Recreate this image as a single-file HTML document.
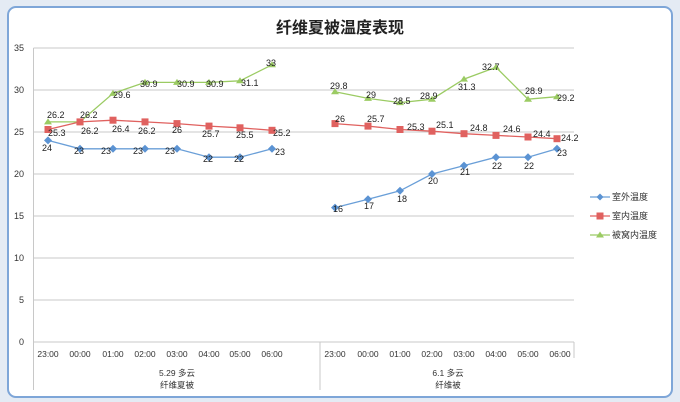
<!DOCTYPE html>
<html><head><meta charset="utf-8"><style>
html,body{margin:0;padding:0;width:680px;height:402px;overflow:hidden;background:#dfe7f1}
svg{display:block}
text{font-family:"Liberation Sans","Noto Sans CJK SC",sans-serif}
</style></head><body>
<svg width="680" height="402" viewBox="0 0 680 402">
<rect x="0" y="0" width="680" height="402" fill="#e4ebf4"/>
<rect x="8" y="7" width="664" height="390" rx="8" fill="#fff" stroke="#7ea6d8" stroke-width="2"/>
<text x="340" y="33" font-size="16" font-weight="bold" text-anchor="middle" fill="#222">纤维夏被温度表现</text>
<g stroke="#c8c8c8" stroke-width="1">
<line x1="33.5" y1="48" x2="574" y2="48"/><line x1="33.5" y1="90" x2="574" y2="90"/>
<line x1="33.5" y1="132" x2="574" y2="132"/><line x1="33.5" y1="174" x2="574" y2="174"/>
<line x1="33.5" y1="216" x2="574" y2="216"/><line x1="33.5" y1="258" x2="574" y2="258"/>
<line x1="33.5" y1="300" x2="574" y2="300"/><line x1="33.5" y1="342" x2="574" y2="342"/>
<line x1="33.5" y1="48" x2="33.5" y2="390"/><line x1="320" y1="342" x2="320" y2="390"/>
<line x1="574" y1="342" x2="574" y2="358"/>
</g>
<g font-size="9" fill="#333" text-anchor="end">
<text x="24" y="51">35</text><text x="24" y="93">30</text><text x="24" y="135">25</text><text x="24" y="177">20</text><text x="24" y="219">15</text><text x="24" y="261">10</text><text x="24" y="303">5</text><text x="24" y="345">0</text>
</g>
<g font-size="8.5" fill="#333" text-anchor="middle">
<text x="48" y="357">23:00</text><text x="80" y="357">00:00</text><text x="113" y="357">01:00</text><text x="145" y="357">02:00</text><text x="177" y="357">03:00</text><text x="209" y="357">04:00</text><text x="240" y="357">05:00</text><text x="272" y="357">06:00</text>
<text x="335" y="357">23:00</text><text x="368" y="357">00:00</text><text x="400" y="357">01:00</text><text x="432" y="357">02:00</text><text x="464" y="357">03:00</text><text x="496" y="357">04:00</text><text x="528" y="357">05:00</text><text x="560" y="357">06:00</text>
<text x="177" y="376">5.29 多云</text><text x="177" y="388">纤维夏被</text>
<text x="448" y="376">6.1 多云</text><text x="448" y="388">纤维被</text>
</g>
<!-- green -->
<polyline fill="none" stroke="#9bcb63" stroke-width="1.3" points="48,121.9 80,121.9 113,93.4 145,82.4 177,82.4 209,82.4 240,80.8 272,64.8"/>
<polyline fill="none" stroke="#9bcb63" stroke-width="1.3" points="335,91.7 368,98.4 400,102.6 432,99.2 464,79.1 496,67.3 528,99.2 557,96.7"/>
<g fill="#9bcb63">
<path d="M48,118.4l4,6h-8z"/><path d="M80,118.4l4,6h-8z"/><path d="M113,89.9l4,6h-8z"/><path d="M145,78.9l4,6h-8z"/><path d="M177,78.9l4,6h-8z"/><path d="M209,78.9l4,6h-8z"/><path d="M240,77.3l4,6h-8z"/><path d="M272,61.3l4,6h-8z"/>
<path d="M335,88.2l4,6h-8z"/><path d="M368,94.9l4,6h-8z"/><path d="M400,99.1l4,6h-8z"/><path d="M432,95.7l4,6h-8z"/><path d="M464,75.6l4,6h-8z"/><path d="M496,63.8l4,6h-8z"/><path d="M528,95.7l4,6h-8z"/><path d="M557,93.2l4,6h-8z"/>
</g>
<!-- red -->
<polyline fill="none" stroke="#e0615f" stroke-width="1.3" points="48,129.5 80,121.9 113,120.2 145,121.9 177,123.6 209,126.1 240,127.8 272,130.3"/>
<polyline fill="none" stroke="#e0615f" stroke-width="1.3" points="335,123.6 368,126.1 400,129.5 432,131.2 464,133.7 496,135.4 528,137 557,138.7"/>
<g fill="#e0615f">
<rect x="44.5" y="126" width="7" height="7"/><rect x="76.5" y="118.4" width="7" height="7"/><rect x="109.5" y="116.7" width="7" height="7"/><rect x="141.5" y="118.4" width="7" height="7"/><rect x="173.5" y="120.1" width="7" height="7"/><rect x="205.5" y="122.6" width="7" height="7"/><rect x="236.5" y="124.3" width="7" height="7"/><rect x="268.5" y="126.8" width="7" height="7"/>
<rect x="331.5" y="120.1" width="7" height="7"/><rect x="364.5" y="122.6" width="7" height="7"/><rect x="396.5" y="126" width="7" height="7"/><rect x="428.5" y="127.7" width="7" height="7"/><rect x="460.5" y="130.2" width="7" height="7"/><rect x="492.5" y="131.9" width="7" height="7"/><rect x="524.5" y="133.5" width="7" height="7"/><rect x="553.5" y="135.2" width="7" height="7"/>
</g>
<!-- blue -->
<polyline fill="none" stroke="#6a9fd8" stroke-width="1.3" points="48,140.4 80,148.8 113,148.8 145,148.8 177,148.8 209,157.2 240,157.2 272,148.8"/>
<polyline fill="none" stroke="#6a9fd8" stroke-width="1.3" points="335,207.6 368,199.2 400,190.8 432,174 464,165.6 496,157.2 528,157.2 557,148.8"/>
<g fill="#5b93d3">
<path d="M48,136.4l4,4l-4,4l-4,-4z"/><path d="M80,144.8l4,4l-4,4l-4,-4z"/><path d="M113,144.8l4,4l-4,4l-4,-4z"/><path d="M145,144.8l4,4l-4,4l-4,-4z"/><path d="M177,144.8l4,4l-4,4l-4,-4z"/><path d="M209,153.2l4,4l-4,4l-4,-4z"/><path d="M240,153.2l4,4l-4,4l-4,-4z"/><path d="M272,144.8l4,4l-4,4l-4,-4z"/>
<path d="M335,203.6l4,4l-4,4l-4,-4z"/><path d="M368,195.2l4,4l-4,4l-4,-4z"/><path d="M400,186.8l4,4l-4,4l-4,-4z"/><path d="M432,170l4,4l-4,4l-4,-4z"/><path d="M464,161.6l4,4l-4,4l-4,-4z"/><path d="M496,153.2l4,4l-4,4l-4,-4z"/><path d="M528,153.2l4,4l-4,4l-4,-4z"/><path d="M557,144.8l4,4l-4,4l-4,-4z"/>
</g>
<!-- labels -->
<g font-size="9" fill="#222">
<text x="47" y="118">26.2</text><text x="80" y="118">26.2</text><text x="113" y="98">29.6</text><text x="140" y="87">30.9</text><text x="177" y="87">30.9</text><text x="206" y="87">30.9</text><text x="241" y="86">31.1</text><text x="266" y="66">33</text>
<text x="48" y="136">25.3</text><text x="81" y="134">26.2</text><text x="112" y="132">26.4</text><text x="138" y="134">26.2</text><text x="172" y="133">26</text><text x="202" y="137">25.7</text><text x="236" y="138">25.5</text><text x="273" y="136">25.2</text>
<text x="42" y="151">24</text><text x="74" y="154">23</text><text x="101" y="154">23</text><text x="133" y="154">23</text><text x="165" y="154">23</text><text x="203" y="162">22</text><text x="234" y="162">22</text><text x="275" y="155">23</text>
<text x="330" y="89">29.8</text><text x="366" y="98">29</text><text x="393" y="104">28.5</text><text x="420" y="99">28.9</text><text x="458" y="90">31.3</text><text x="482" y="70">32.7</text><text x="525" y="94">28.9</text><text x="557" y="101">29.2</text>
<text x="335" y="122">26</text><text x="367" y="122">25.7</text><text x="407" y="130">25.3</text><text x="436" y="128">25.1</text><text x="470" y="131">24.8</text><text x="503" y="132">24.6</text><text x="533" y="137">24.4</text><text x="561" y="141">24.2</text>
<text x="333" y="212">16</text><text x="364" y="209">17</text><text x="397" y="202">18</text><text x="428" y="184">20</text><text x="460" y="175">21</text><text x="492" y="169">22</text><text x="524" y="169">22</text><text x="557" y="156">23</text>
</g>
<!-- legend -->
<g font-size="9" fill="#333">
<line x1="590" y1="197" x2="610" y2="197" stroke="#6a9fd8" stroke-width="1.3"/><path d="M600,193.5l3.5,3.5l-3.5,3.5l-3.5,-3.5z" fill="#5b93d3"/><text x="612" y="200">室外温度</text>
<line x1="590" y1="216" x2="610" y2="216" stroke="#e0615f" stroke-width="1.3"/><rect x="596.5" y="212.5" width="7" height="7" fill="#e0615f"/><text x="612" y="219">室内温度</text>
<line x1="590" y1="235" x2="610" y2="235" stroke="#9bcb63" stroke-width="1.3"/><path d="M600,231.5l4,6h-8z" fill="#9bcb63"/><text x="612" y="238">被窝内温度</text>
</g>
</svg>
</body></html>
